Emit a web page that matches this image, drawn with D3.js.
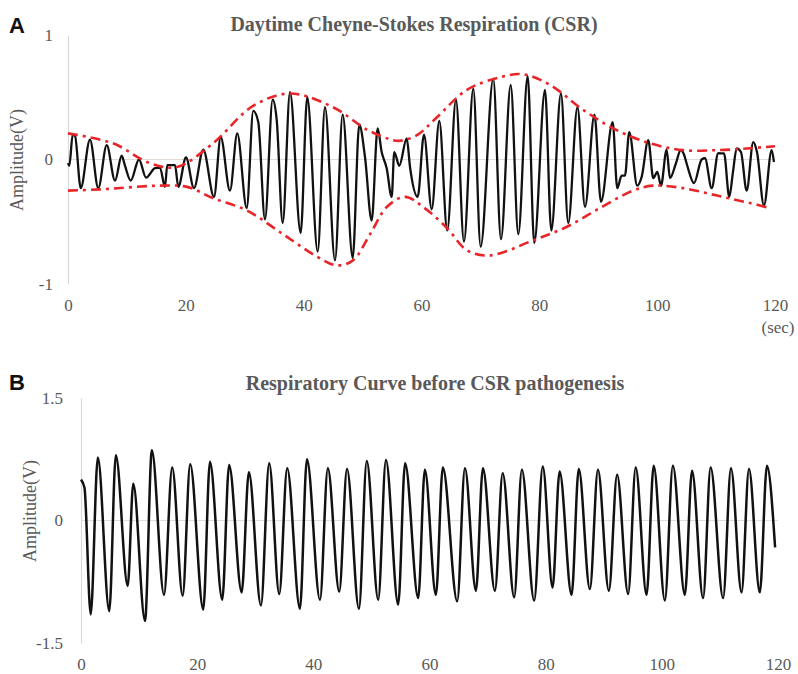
<!DOCTYPE html>
<html><head><meta charset="utf-8">
<script src="https://cdn.jsdelivr.net/npm/d3@7"></script>
<style>body{margin:0;background:#fff}</style>
</head><body>
<svg id="c" width="798" height="674"></svg>
<script>
// ---------- Panel A: Daytime Cheyne-Stokes Respiration ----------
const csrTime = [0.0,0.22,0.80,1.19,2.16,3.73,5.14,6.57,7.98,9.11,9.67,10.64,12.05,13.24,14.77,15.61,16.46,16.85,18.16,18.72,20.03,21.38,22.96,24.78,25.92,27.49,28.73,30.33,31.45,32.30,33.43,34.74,35.42,36.44,37.68,39.49,40.61,42.38,43.62,45.32,46.62,48.32,49.44,50.41,51.54,52.56,53.24,54.09,54.94,55.38,56.23,57.49,58.05,59.35,60.42,61.73,63.02,64.37,65.85,67.21,68.79,70.04,72.18,73.49,75.14,76.43,78.02,79.14,80.96,82.03,83.67,84.91,86.47,87.75,89.36,90.46,92.45,93.23,93.97,94.53,95.26,96.62,97.37,98.49,99.34,100.02,100.65,101.61,102.17,103.19,103.99,104.55,105.11,106.25,107.55,108.11,109.25,110.37,111.34,112.24,112.87,113.49,114.22,115.19,116.31,116.94,118.13,119.43,119.82];
const csrAmp = [-0.03,-0.05,0.20,0.19,-0.23,0.16,-0.23,0.115,-0.17,0.03,-0.05,-0.17,0.0,-0.145,-0.07,-0.065,-0.22,-0.045,-0.045,-0.22,0.016,-0.23,0.08,-0.30,0.18,-0.25,0.21,-0.39,0.39,0.30,-0.48,0.48,0.32,-0.51,0.54,-0.59,0.50,-0.74,0.42,-0.81,0.36,-0.79,0.28,0.02,-0.49,0.25,0.06,-0.07,-0.30,0.06,-0.05,0.17,-0.06,-0.30,0.20,-0.40,0.31,-0.57,0.48,-0.66,0.57,-0.70,0.65,-0.64,0.60,-0.60,0.67,-0.67,0.56,-0.57,0.53,-0.51,0.42,-0.38,0.36,-0.34,0.30,-0.23,-0.13,-0.13,0.22,-0.21,-0.14,0.155,-0.15,-0.10,-0.21,0.08,-0.15,-0.03,0.075,0.04,-0.05,-0.19,0.0,0.01,-0.23,0.05,0.05,-0.30,-0.10,0.09,0.06,-0.25,0.14,0.06,-0.37,0.075,-0.02];

const upperTime = [0,7.64,13.92,18.5,24.61,31.4,37.68,44.98,50.75,55.16,56.35,59.23,62.63,67.72,73.32,77.22,81.8,87.4,93.18,98.78,104.4,110.15,115.75,120];
const upperAmp  = [0.21,0.13,-0.03,-0.06,0.13,0.43,0.53,0.42,0.24,0.155,0.15,0.195,0.34,0.56,0.66,0.685,0.60,0.40,0.235,0.13,0.075,0.075,0.09,0.107];

const lowerTime = [0,5.43,15.61,20.2,24.61,30.38,36.49,42.26,45.65,48.37,51.26,54.14,57.2,60.25,64.32,67.72,71.62,78.92,84.69,90.29,95.89,99.29,104.4,110.15,115.75,119.15];
const lowerAmp  = [-0.25,-0.24,-0.21,-0.22,-0.31,-0.41,-0.60,-0.78,-0.85,-0.81,-0.60,-0.38,-0.30,-0.38,-0.55,-0.73,-0.77,-0.65,-0.54,-0.39,-0.25,-0.21,-0.23,-0.29,-0.35,-0.39];

// ---------- Panel B: Respiratory curve before CSR ----------
const baseTime = [0,0.6,1.67,2.9,4.87,6.0,8.04,9.0,11.02,12.2,14.29,15.7,17.5,18.8,21.05,22.2,24.32,25.5,27.66,28.9,30.98,32.4,34.13,35.5,37.69,38.9,41.14,42.5,44.46,45.8,47.85,49.2,51.17,52.5,54.61,55.8,58.06,59.2,61.1,62.3,64.77,66.1,67.99,69.2,71.26,72.6,74.58,75.9,78.02,79.5,81.19,82.4,84.46,85.7,87.61,89.0,90.88,92.3,94.2,95.5,97.37,98.6,100.52,101.9,103.96,105.2,107.1,108.4,110.55,111.9,113.72,115.0,116.87,118.1,119.5];
const baseAmp = [0.50,0.40,-1.15,0.77,-1.11,0.80,-0.80,0.45,-1.23,0.86,-0.91,0.65,-0.92,0.69,-1.09,0.72,-0.97,0.68,-0.88,0.59,-1.04,0.70,-0.90,0.64,-1.08,0.75,-0.97,0.64,-0.87,0.63,-1.08,0.73,-0.97,0.74,-1.03,0.70,-0.95,0.62,-0.91,0.65,-0.99,0.64,-0.86,0.64,-0.86,0.58,-0.94,0.62,-0.98,0.66,-0.82,0.60,-0.91,0.63,-0.84,0.62,-0.86,0.56,-0.90,0.65,-0.91,0.67,-0.98,0.67,-0.91,0.61,-0.95,0.65,-0.95,0.64,-0.88,0.63,-0.88,0.67,-0.33];

const xTicks = [0,20,40,60,80,100,120];
const yTicksA = [-1,0,1];
const yTicksB = [-1.5,0,1.5];

const svg = d3.select('#c');
const serif = '"Liberation Serif","Times New Roman",serif';
const txtCol = '#595959';
const zip = (t,v) => t.map((d,i)=>[d,v[i]]);

function styleText(sel, size){
  sel.style('font-family',serif).style('font-size',size+'px').style('fill',txtCol);
}

function panel(opt){
  const x = d3.scaleLinear().domain([0,120]).range(opt.xr);
  const y = d3.scaleLinear().domain(opt.yd).range(opt.yr);
  const g = svg.append('g');
  g.append('line').attr('x1',x(0)).attr('x2',x(120)).attr('y1',y(0)).attr('y2',y(0))
    .attr('stroke','#e3dcd6').attr('stroke-width',1);
  const ya = g.append('g').attr('transform',`translate(${x(0)},0)`)
    .call(d3.axisLeft(y).tickValues(opt.yt).tickSize(0).tickPadding(opt.ypad).tickFormat(d=>String(d)));
  ya.select('.domain').attr('stroke','#d9d9d9').attr('stroke-width',1.2);
  styleText(ya.selectAll('text'),17);
  const xa = g.append('g').attr('transform',`translate(0,${opt.yr[0]})`)
    .call(d3.axisBottom(x).tickValues(xTicks).tickSize(0).tickPadding(15).tickFormat(d=>String(d)));
  xa.select('.domain').remove();
  styleText(xa.selectAll('text'),17);
  const t = g.append('text').attr('x',opt.tx).attr('y',opt.ty).attr('text-anchor','middle').text(opt.title);
  styleText(t,20); t.style('font-weight','bold');
  g.append('text').attr('x',9).attr('y',opt.ly).style('font-family','"Liberation Sans",Arial,sans-serif')
    .style('font-weight','bold').style('font-size','22px').style('fill','#111').text(opt.letter);
  const yl = g.append('text').attr('transform',`translate(${opt.labx},${opt.laby}) rotate(-90)`).attr('text-anchor','middle').text('Amplitude(V)');
  styleText(yl,18);
  return {g,x,y};
}

// Panel A
const A = panel({xr:[68,775], yd:[-1,1], yr:[284,35], yt:yTicksA, ypad:15,
  title:'Daytime Cheyne-Stokes Respiration (CSR)', tx:414, ty:31, letter:'A', ly:33, labx:23, laby:160});
const envLine = d3.line().x(d=>A.x(d[0])).y(d=>A.y(d[1])).curve(d3.curveCatmullRom.alpha(0.5));
const sigLineA = d3.line().x(d=>A.x(d[0])).y(d=>A.y(d[1])).curve(d3.curveMonotoneX);
A.g.append('path').attr('d',sigLineA(zip(csrTime,csrAmp))).attr('fill','none')
  .attr('stroke','#111').attr('stroke-width',2.3).attr('stroke-linejoin','round');
[zip(upperTime,upperAmp), zip(lowerTime,lowerAmp)].forEach(p=>{
  A.g.append('path').attr('d',envLine(p)).attr('fill','none').attr('stroke','#e8262a')
   .attr('stroke-width',2.6).attr('stroke-dasharray','10,5,3,5');
});
const sec = A.g.append('text').attr('x',778).attr('y',333).attr('text-anchor','middle').text('(sec)');
styleText(sec,17);

// Panel B
const B = panel({xr:[81,778], yd:[-1.5,1.5], yr:[643,398], yt:yTicksB, ypad:18,
  title:'Respiratory Curve before CSR pathogenesis', tx:435, ty:390, letter:'B', ly:390, labx:36, laby:511});
const sigLineB = d3.line().x(d=>B.x(d[0])).y(d=>B.y(d[1])).curve(d3.curveMonotoneX);
B.g.append('path').attr('d',sigLineB(zip(baseTime,baseAmp))).attr('fill','none')
  .attr('stroke','#111').attr('stroke-width',2.5).attr('stroke-linejoin','round');
</script>
</body></html>
